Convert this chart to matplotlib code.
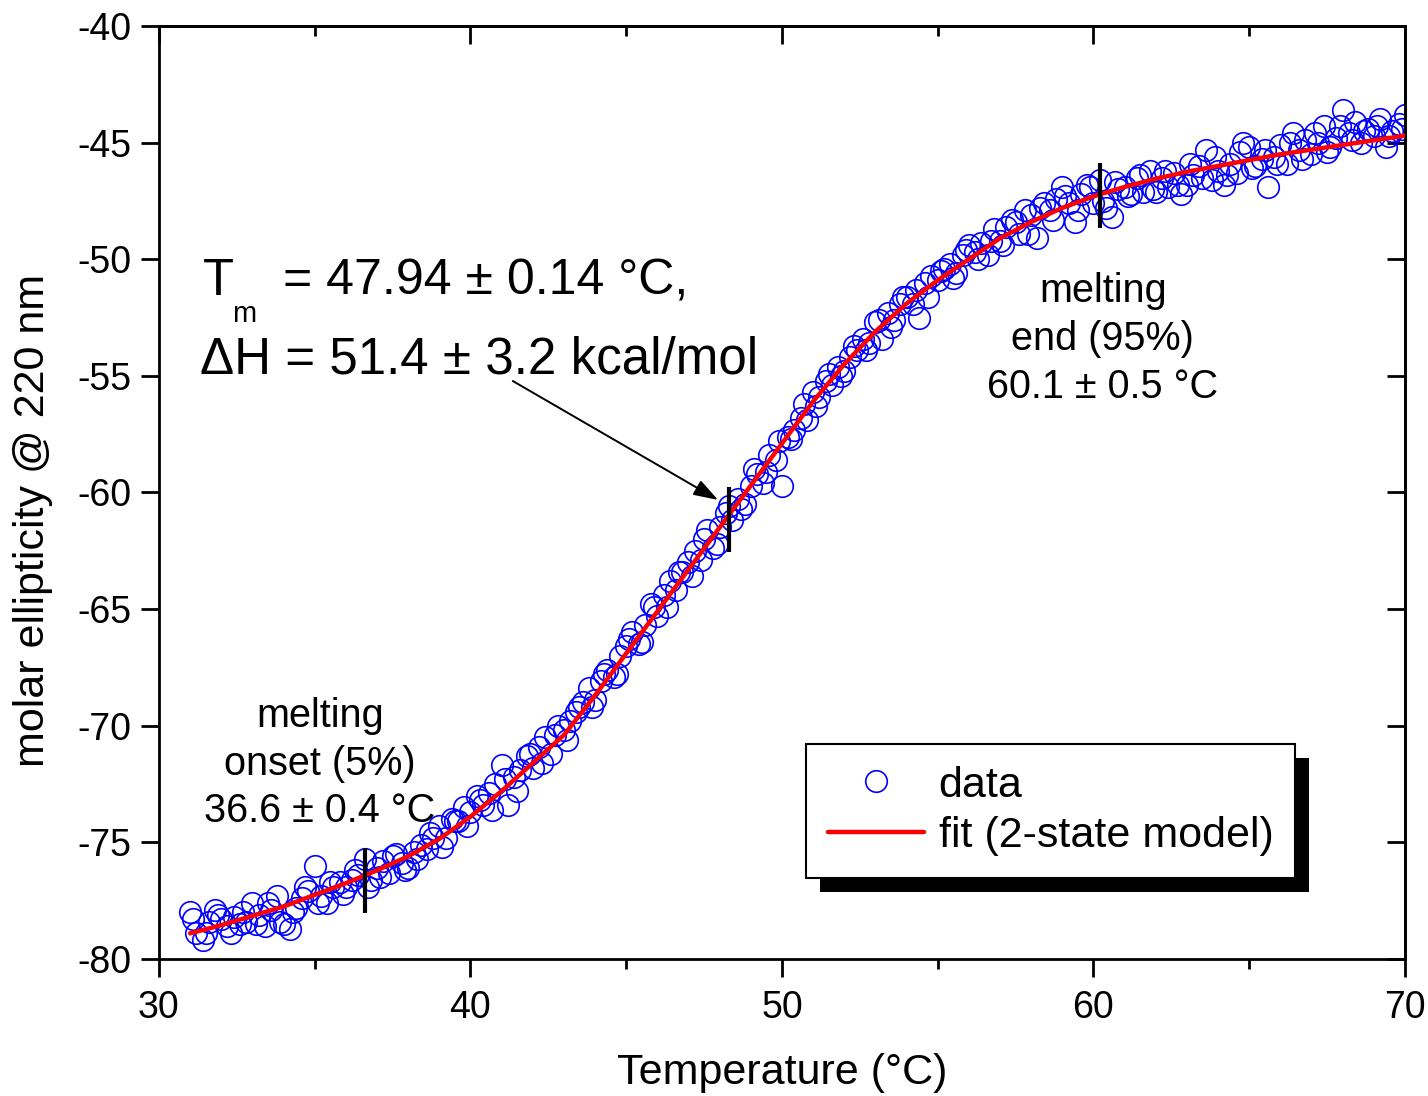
import matplotlib
matplotlib.use("Agg")
import matplotlib.pyplot as plt
from matplotlib.patches import Rectangle
from matplotlib.transforms import IdentityTransform
from matplotlib.ticker import FixedLocator

plt.rcParams['font.family'] = ['Liberation Sans', 'DejaVu Sans']

# ---------------- data ----------------
temperature = [
    31.0, 31.2, 31.4, 31.6, 31.8, 32.0, 32.2, 32.4, 32.6, 32.8,
    33.0, 33.2, 33.4, 33.6, 33.8, 34.0, 34.2, 34.4, 34.6, 34.8,
    35.0, 35.2, 35.4, 35.6, 35.8, 36.0, 36.2, 36.4, 36.6, 36.8,
    37.0, 37.2, 37.4, 37.6, 37.8, 38.0, 38.2, 38.4, 38.6, 38.8,
    39.0, 39.2, 39.4, 39.6, 39.8, 40.0, 40.2, 40.4, 40.6, 40.8,
    41.0, 41.2, 41.4, 41.6, 41.8, 42.0, 42.2, 42.4, 42.6, 42.8,
    43.0, 43.2, 43.4, 43.6, 43.8, 44.0, 44.2, 44.4, 44.6, 44.8,
    45.0, 45.2, 45.4, 45.6, 45.8, 46.0, 46.2, 46.4, 46.6, 46.8,
    47.0, 47.2, 47.4, 47.6, 47.8, 48.0, 48.2, 48.4, 48.6, 48.8,
    49.0, 49.2, 49.4, 49.6, 49.8, 50.0, 50.2, 50.4, 50.6, 50.8,
    51.0, 51.2, 51.4, 51.6, 51.8, 52.0, 52.2, 52.4, 52.6, 52.8,
    53.0, 53.2, 53.4, 53.6, 53.8, 54.0, 54.2, 54.4, 54.6, 54.8,
    55.0, 55.2, 55.4, 55.6, 55.8, 56.0, 56.2, 56.4, 56.6, 56.8,
    57.0, 57.2, 57.4, 57.6, 57.8, 58.0, 58.2, 58.4, 58.6, 58.8,
    59.0, 59.2, 59.4, 59.6, 59.8, 60.0, 60.2, 60.4, 60.6, 60.8,
    61.0, 61.2, 61.4, 61.6, 61.8, 62.0, 62.2, 62.4, 62.6, 62.8,
    63.0, 63.2, 63.4, 63.6, 63.8, 64.0, 64.2, 64.4, 64.6, 64.8,
    65.0, 65.2, 65.4, 65.6, 65.8, 66.0, 66.2, 66.4, 66.6, 66.8,
    67.0, 67.2, 67.4, 67.6, 67.8, 68.0, 68.2, 68.4, 68.6, 68.8,
    69.0, 69.2, 69.4, 69.6, 69.8, 70.0,
]
ellipticity = [
    -78.0, -78.9, -79.2, -78.4, -77.9, -78.3, -78.6, -78.2, -78.5, -78.4,
    -77.6, -78.1, -78.6, -77.9, -77.3, -78.5, -78.7, -77.8, -77.4, -77.1,
    -76.0, -77.3, -77.6, -76.9, -76.7, -76.9, -76.6, -76.4, -75.7, -76.6,
    -76.1, -75.8, -76.3, -75.5, -75.9, -76.1, -75.4, -75.1, -75.3, -74.8,
    -74.3, -74.8, -74.0, -74.1, -73.5, -73.7, -73.0, -73.4, -72.9, -72.5,
    -71.7, -73.4, -72.2, -71.9, -71.3, -71.8, -70.9, -70.5, -71.2, -70.0,
    -70.2, -69.8, -69.4, -69.0, -68.4, -68.9, -68.1, -67.6, -67.9, -67.0,
    -66.6, -66.0, -66.5, -65.7, -64.8, -65.3, -64.4, -63.8, -64.2, -63.4,
    -63.0, -62.5, -62.9, -61.6, -62.4, -61.5, -60.9, -61.2, -60.3, -60.5,
    -59.7, -59.2, -59.6, -58.4, -58.6, -59.7, -57.6, -57.3, -56.8, -56.9,
    -55.7, -55.9, -55.2, -55.4, -54.6, -54.8, -54.2, -53.9, -53.4, -53.6,
    -52.7, -53.4, -52.3, -52.6, -51.9, -51.6, -51.9, -52.5, -51.0, -50.7,
    -50.9, -50.4, -50.2, -50.6, -49.8, -49.4, -49.7, -49.3, -49.8, -48.7,
    -49.2, -48.6, -48.3, -48.9, -47.9, -48.1, -49.1, -47.6, -47.9, -47.4,
    -46.9, -47.6, -48.4, -47.2, -46.8, -47.6, -46.6, -47.8, -48.2, -47.0,
    -46.9, -47.2, -46.5, -47.1, -46.2, -47.1, -46.5, -46.9, -46.3, -47.2,
    -46.8, -46.4, -46.0, -45.3, -46.6, -46.2, -46.8, -45.9, -46.3, -45.0,
    -45.2, -46.0, -45.7, -46.9, -45.6, -45.1, -45.9, -44.6, -45.3, -44.9,
    -45.5, -45.0, -44.3, -45.2, -44.8, -43.6, -44.6, -44.1, -45.0, -44.4,
    -44.7, -44.0, -45.2, -44.5, -44.2, -43.8,
]
# further readings lying between the ones above
temperature_extra = [
    31.1, 31.5, 31.9, 32.3, 32.7, 33.1, 33.5, 33.9, 34.3, 34.7,
    35.1, 35.5, 35.9, 36.3, 36.7, 37.1, 37.5, 37.9, 38.3, 38.7,
    39.1, 39.5, 39.9, 40.3, 40.7, 41.1, 41.5, 41.9, 42.3, 42.7,
    43.1, 43.5, 43.9, 44.3, 44.7, 45.1, 45.5, 45.9, 46.3, 46.7,
    47.1, 47.5, 47.9, 48.3, 48.7, 49.1, 49.5, 49.9, 50.3, 50.7,
    51.1, 51.5, 51.9, 52.3, 52.7, 53.1, 53.5, 53.9, 54.3, 54.7,
    55.1, 55.5, 55.9, 56.3, 56.7, 57.1, 57.5, 57.9, 58.3, 58.7,
    59.1, 59.5, 59.9, 60.3, 60.7, 61.1, 61.5, 61.9, 62.3, 62.7,
    63.1, 63.5, 63.9, 64.3, 64.7, 65.1, 65.5, 65.9, 66.3, 66.7,
    67.1, 67.5, 67.9, 68.3, 68.7, 69.1, 69.5, 69.9,
]
ellipticity_extra = [
    -78.3, -78.9, -78.1, -78.9, -78.0, -78.5, -77.6, -78.4, -78.0, -76.9,
    -77.6, -76.7, -77.2, -76.2, -76.9, -76.5, -75.6, -76.2, -75.7, -74.6,
    -75.2, -74.1, -74.3, -73.2, -73.6, -72.3, -72.8, -71.2, -71.6, -70.4,
    -70.6, -69.2, -69.2, -67.8, -67.8, -66.3, -66.4, -64.9, -64.9, -63.4,
    -63.6, -62.0, -62.2, -60.6, -60.7, -59.0, -59.1, -57.8, -57.7, -56.2,
    -56.3, -54.9, -55.0, -53.7, -53.9, -52.6, -52.9, -51.6, -51.3, -51.6,
    -50.5, -50.8, -49.6, -50.0, -49.2, -49.4, -48.4, -48.9, -47.8, -48.3,
    -47.3, -47.9, -46.9, -47.5, -46.7, -47.3, -46.4, -47.0, -46.2, -46.8,
    -45.9, -46.5, -45.6, -46.4, -45.4, -46.1, -45.3, -45.9, -45.0, -45.7,
    -44.6, -45.4, -44.3, -44.9, -44.5, -44.3, -44.7, -44.4,
]

fit_temperature = [31, 32, 33, 34, 35, 36, 37, 38, 39, 40,
                   41, 42, 43, 44, 45, 46, 47, 48, 49, 50,
                   51, 52, 53, 54, 55, 56, 57, 58, 59, 60,
                   61, 62, 63, 64, 65, 66, 67, 68, 69, 70]
fit_ellipticity = [-78.9, -78.55, -78.15, -77.75, -77.25, -76.75, -76.2, -75.6, -74.85, -73.9,
                   -72.8, -71.6, -70.4, -68.7, -66.9, -65.1, -63.3, -61.5, -59.7, -57.9,
                   -56.1, -54.5, -53.1, -51.9, -50.9, -50.0, -49.1, -48.4, -47.8, -47.3,
                   -46.9, -46.55, -46.25, -46.0, -45.75, -45.5, -45.3, -45.1, -44.9, -44.7]

# marks for onset, Tm and end of melting
mark_temperature = [36.6, 48.3, 60.2]
mark_center = [-76.63, -61.14, -47.25]
mark_half = 1.39

x_ticks = [30, 40, 50, 60, 70]
x_minor = [35, 45, 55, 65]
y_ticks = [-80, -75, -70, -65, -60, -55, -50, -45, -40]

# ---------------- figure ----------------
fig = plt.figure(figsize=(14.28, 10.96), dpi=100)
ax = fig.add_axes([0.1113, 0.125, 0.87255, 0.85128])

ax.plot(temperature + temperature_extra, ellipticity + ellipticity_extra,
        linestyle='none', marker='o', ms=15.5,
        mfc='none', mec='#0000FF', mew=1.2, label='data', zorder=2)
ax.plot(fit_temperature, fit_ellipticity, color='#FF0000', lw=3.2,
        solid_capstyle='round', label='fit (2-state model)', zorder=3)

ax.vlines(mark_temperature,
          [c - mark_half for c in mark_center],
          [c + mark_half for c in mark_center],
          color='black', lw=3, zorder=4)

ax.set_xlim(30, 70)
ax.set_ylim(-80, -40)
ax.set_xticks(x_ticks)
ax.set_xticks(x_minor, minor=True)
ax.set_yticks(y_ticks)
ax.set_xticklabels([str(t) for t in x_ticks])
ax.set_yticklabels([str(t) for t in y_ticks])
ax.tick_params(which='major', direction='out', length=13, width=2, labelsize=27)
ax.tick_params(which='minor', direction='out', length=7, width=2)
ax.tick_params(axis='x', pad=9)
ax.tick_params(axis='y', pad=7)
for sp in ax.spines.values():
    sp.set_linewidth(2)

secx = ax.secondary_xaxis('top')
secx.set_xticks(x_ticks)
secx.xaxis.set_minor_locator(FixedLocator(x_minor))
secx.tick_params(which='major', direction='in', length=13, width=2, labeltop=False)
secx.tick_params(which='minor', direction='in', length=7, width=2)
secx.spines['top'].set_linewidth(2)

secy = ax.secondary_yaxis('right')
secy.set_yticks(y_ticks)
secy.tick_params(which='major', direction='in', length=13, width=2, labelright=False)
secy.spines['right'].set_linewidth(2)

# axis labels
fig.text(782 / 1428, 1 - 1073 / 1096, 'Temperature (°C)', ha='center', va='center', fontsize=31)
fig.text(33 / 1428, 1 - 520 / 1096, 'molar ellipticity @ 220 nm', ha='center', va='center',
         rotation=90, fontsize=31)

# Tm / dH annotation
ax.text(31.41, -51.53, 'T', fontsize=36.5, va='baseline', ha='left')
ax.text(32.34, -52.69, 'm', fontsize=21, va='baseline', ha='left')
ax.text(33.98, -51.53, '= 47.94 ± 0.14 °C,', fontsize=36, va='baseline', ha='left')
ax.text(31.32, -54.88, 'ΔH = 51.4 ± 3.2 kcal/mol', fontsize=36.8, va='baseline', ha='left')
ax.annotate('', xy=(47.95, -60.32), xytext=(41.36, -55.22),
            arrowprops=dict(arrowstyle='-|>,head_length=0.6,head_width=0.2',
                            color='black', lw=1.4, mutation_scale=25,
                            shrinkA=0, shrinkB=0))

# onset / end annotations
for txt, yy in zip(['melting', 'onset (5%)', '36.6 ± 0.4 °C'], [-70.05, -72.11, -74.13]):
    ax.text(35.17, yy, txt, fontsize=28.5, ha='center', va='baseline')
for txt, yy in zip(['melting', 'end (95%)', '60.1 ± 0.5 °C'], [-51.83, -53.89, -55.95]):
    ax.text(60.30, yy, txt, fontsize=28.5, ha='center', va='baseline')

# legend with a solid offset shadow
leg = ax.legend(loc='upper left', bbox_to_anchor=(0.5193, 0.2304), borderaxespad=0,
                frameon=True, fancybox=False, edgecolor='black', framealpha=1,
                fontsize=31, handlelength=2.25, handletextpad=0.33,
                borderpad=0.5, labelspacing=0.25)
leg.get_frame().set_linewidth(1.5)
leg.set_zorder(6)
fig.canvas.draw()
bb = leg.get_window_extent()
shadow = Rectangle((bb.x0 + 14, bb.y0 - 14), bb.width, bb.height,
                   transform=IdentityTransform(), facecolor='black',
                   edgecolor='none', zorder=5.5)
ax.add_patch(shadow)

fig.savefig('out.png', dpi=100)
